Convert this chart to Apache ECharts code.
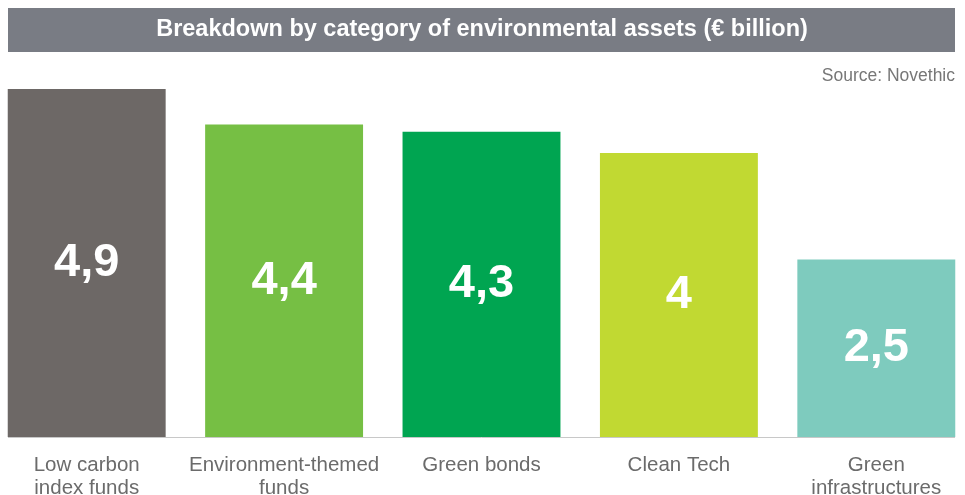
<!DOCTYPE html>
<html><head><meta charset="utf-8">
<script src="https://cdn.jsdelivr.net/npm/echarts@6/dist/echarts.min.js"></script>
<style>html,body{margin:0;padding:0;background:#fff}#c{width:965px;height:495px}</style>
</head><body><div id="c"></div>
<script>
const categories = ["Low carbon\nindex funds", "Environment-themed\nfunds", "Green bonds", "Clean Tech", "Green\ninfrastructures"];
const values = [4.9, 4.4, 4.3, 4.0, 2.5];
const valueLabels = ["4,9", "4,4", "4,3", "4", "2,5"];
const barColors = ["#6d6866", "#76bf44", "#00a551", "#c1d932", "#7ecbbe"];
const FONT = "'Liberation Sans', Arial, Helvetica, sans-serif";

const chart = echarts.init(document.getElementById('c'), null, {renderer: 'canvas'});
chart.setOption({
  animation: false,
  backgroundColor: '#ffffff',
  grid: {left: -12, width: 987, top: 82, bottom: 58, containLabel: false, outerBoundsMode: 'none'},
  xAxis: {
    type: 'category', data: categories,
    axisLine: {show: false}, axisTick: {show: false},
    axisLabel: {color: '#6b6b6b', fontFamily: FONT, fontSize: 20.5, lineHeight: 23, margin: 17, interval: 0}
  },
  yAxis: {type: 'value', min: 0, max: 5, show: false, splitLine: {show: false}},
  series: [{
    type: 'bar', barCategoryGap: '20%',
    data: values.map((v, i) => ({value: v, itemStyle: {color: barColors[i]}})),
    label: {
      show: true, position: 'inside', color: '#ffffff', fontFamily: FONT,
      fontWeight: 'bold', fontSize: 47,
      formatter: p => valueLabels[p.dataIndex]
    }
  }],
  graphic: [
    {type: 'rect', shape: {x: 8, y: 8, width: 947, height: 44}, style: {fill: '#797c84'}, silent: true},
    {type: 'text', x: 482, y: 30, style: {text: 'Breakdown by category of environmental assets (€ billion)', fill: '#ffffff', font: 'bold 23.5px ' + FONT, textAlign: 'center', textVerticalAlign: 'middle'}},
    {type: 'text', x: 955, y: 76, style: {text: 'Source: Novethic', fill: '#777777', font: '17.5px ' + FONT, textAlign: 'right', textVerticalAlign: 'middle'}},
    {type: 'line', shape: {x1: 8, y1: 437.5, x2: 955, y2: 437.5}, style: {stroke: '#c8c8c8', lineWidth: 1}, z: 10}
  ]
});
</script></body></html>
